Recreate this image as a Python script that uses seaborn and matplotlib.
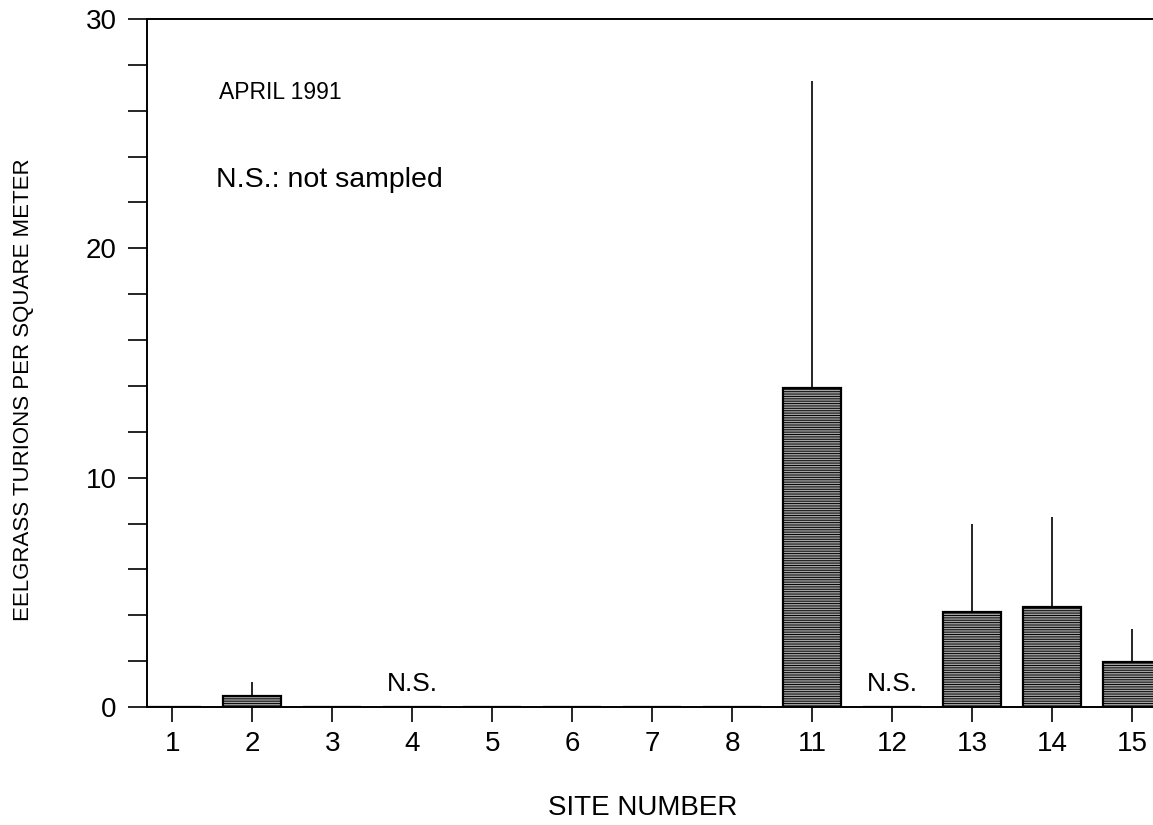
import numpy as np
import pandas as pd
import matplotlib
matplotlib.use("Agg")
import matplotlib.pyplot as plt
import seaborn as sns

# ---- data ----
sites = ["1", "2", "3", "4", "5", "6", "7", "8", "11", "12", "13", "14", "15"]
means = [0.0, 0.48, 0.0, 0.0, 0.0, 0.0, 0.0, 0.0, 13.9, 0.0, 4.15, 4.36, 1.96]
upper = [0.0, 1.1, 0.0, 0.0, 0.0, 0.0, 0.0, 0.0, 27.3, 0.0, 8.0, 8.3, 3.4]
not_sampled = ["4", "12"]
yticks_major = [0, 10, 20, 30]

sns.set_theme(style="white")
plt.rcParams['font.family'] = ['Liberation Sans', 'DejaVu Sans']
plt.rcParams['hatch.color'] = '#404040'
plt.rcParams['hatch.linewidth'] = 0.7
for k in ['text.color', 'axes.labelcolor', 'xtick.color', 'ytick.color']:
    plt.rcParams[k] = 'black'

fig = plt.figure(figsize=(11.53, 8.25), dpi=100)
ax = fig.add_axes([147/1153, 1 - 707/825, 1 - 147/1153, (707 - 19)/825])

df = pd.DataFrame({"site": sites, "mean": means})
sns.barplot(data=df, x="site", y="mean", order=sites, color="#a4a4a4",
            edgecolor="black", linewidth=1.6, width=0.72, errorbar=None,
            saturation=1, ax=ax)
for p in ax.patches:
    p.set_hatch("-------")

pos = np.arange(len(sites))
m = np.array(means)
u = np.array(upper)
has = u > 0
ax.errorbar(pos[has], m[has], yerr=[np.zeros(has.sum()), (u - m)[has]],
            fmt="none", ecolor="black", elinewidth=1.2, capsize=0, zorder=1)

for s in not_sampled:
    ax.text(sites.index(s), 1.0, "N.S.", ha="center", va="center", fontsize=19)

ax.text(0.585, 26.8, "APRIL 1991", ha="left", va="center", fontsize=16.5)
ax.text(0.55, 23.0, "N.S.: not sampled", ha="left", va="center", fontsize=20.5)

ax.set_xlim(-0.315, 12.26)
ax.set_ylim(0, 30)
ax.set_yticks(np.arange(0, 31, 2))
ax.set_yticklabels([str(v) if v in yticks_major else "" for v in range(0, 31, 2)])
ax.tick_params(axis="y", direction="out", length=14, width=1.2, labelsize=20, pad=8, left=True)
ax.tick_params(axis="x", direction="out", length=11, width=1.2, labelsize=20, pad=6, bottom=True)

for side in ["left", "top", "bottom"]:
    ax.spines[side].set_visible(True)
    ax.spines[side].set_color("black")
    ax.spines[side].set_linewidth(1.4)
ax.spines["right"].set_visible(False)

ax.set_xlabel("SITE NUMBER", fontsize=20)
ax.set_ylabel("EELGRASS TURIONS PER SQUARE METER", fontsize=16)
ax.xaxis.set_label_coords(0.493, -0.128)
ax.yaxis.set_label_coords(-0.112, 0.461)

fig.savefig("out.png", dpi=100)
